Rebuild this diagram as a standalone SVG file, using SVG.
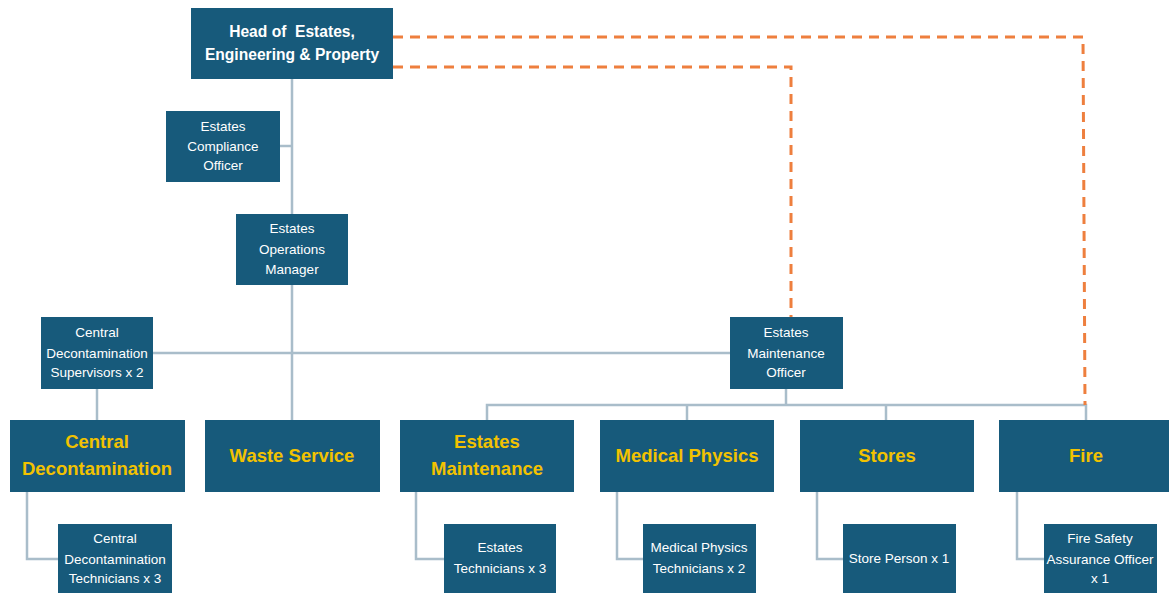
<svg xmlns="http://www.w3.org/2000/svg" width="1169" height="593" viewBox="0 0 1169 593">
<style>
.box{fill:#175a7b}
.ln{fill:none;stroke:#a9bdca;stroke-width:2.5}
.ds{fill:none;stroke:#ee7f3e;stroke-width:3;stroke-dasharray:10 7}
.hd{font-family:"Liberation Sans",Arial,sans-serif;font-weight:bold;font-size:15.6px;fill:#ffffff;text-anchor:middle}
.sm{font-family:"Liberation Sans",Arial,sans-serif;font-size:13.5px;fill:#ffffff;text-anchor:middle}
.yl{font-family:"Liberation Sans",Arial,sans-serif;font-weight:bold;font-size:18.5px;fill:#f2c200;text-anchor:middle}
</style>
<rect width="1169" height="593" fill="#ffffff"/>
<g id="connectors">
<path class="ln" d="M292 79 V420"/>
<path class="ln" d="M280 146 H292"/>
<path class="ln" d="M153 353 H730"/>
<path class="ln" d="M97 389 V420"/>
<path class="ln" d="M786 389 V405"/>
<path class="ln" d="M487 420 V405 H1086 V420"/>
<path class="ln" d="M687 405 V420"/>
<path class="ln" d="M886 405 V420"/>
<path class="ln" d="M27 492 V559 H58"/>
<path class="ln" d="M416 492 V559 H444"/>
<path class="ln" d="M617 492 V559 H643"/>
<path class="ln" d="M817 492 V559 H843"/>
<path class="ln" d="M1017 492 V559 H1044"/>
<path class="ds" d="M393 37 H1083 L1085 405"/>
<path class="ds" d="M393 67 H791 V317"/>
</g>
<g id="head">
<rect class="box" x="191" y="8" width="202" height="71"/>
<text class="hd" x="292" y="37">Head of&#160; Estates,</text>
<text class="hd" x="292" y="60">Engineering &amp; Property</text>
</g>
<g id="compliance">
<rect class="box" x="166" y="111" width="114" height="71"/>
<text class="sm" x="223" y="131">Estates</text>
<text class="sm" x="223" y="151">Compliance</text>
<text class="sm" x="223" y="170">Officer</text>
</g>
<g id="opsmanager">
<rect class="box" x="236" y="214" width="112" height="71"/>
<text class="sm" x="292" y="233">Estates</text>
<text class="sm" x="292" y="254">Operations</text>
<text class="sm" x="292" y="274">Manager</text>
</g>
<g id="cdsupervisors">
<rect class="box" x="41" y="317" width="112" height="72"/>
<text class="sm" x="97" y="337">Central</text>
<text class="sm" x="97" y="358">Decontamination</text>
<text class="sm" x="97" y="377">Supervisors x 2</text>
</g>
<g id="emofficer">
<rect class="box" x="730" y="317" width="113" height="72"/>
<text class="sm" x="786" y="337">Estates</text>
<text class="sm" x="786" y="358">Maintenance</text>
<text class="sm" x="786" y="377">Officer</text>
</g>
<g id="centraldecon">
<rect class="box" x="10" y="420" width="175" height="72"/>
<text class="yl" x="97" y="448">Central</text>
<text class="yl" x="97" y="475">Decontamination</text>
</g>
<g id="waste">
<rect class="box" x="205" y="420" width="175" height="72"/>
<text class="yl" x="292" y="462">Waste Service</text>
</g>
<g id="estatesmaint">
<rect class="box" x="400" y="420" width="174" height="72"/>
<text class="yl" x="487" y="448">Estates</text>
<text class="yl" x="487" y="475">Maintenance</text>
</g>
<g id="medphys">
<rect class="box" x="600" y="420" width="174" height="72"/>
<text class="yl" x="687" y="462">Medical Physics</text>
</g>
<g id="stores">
<rect class="box" x="800" y="420" width="174" height="72"/>
<text class="yl" x="887" y="462">Stores</text>
</g>
<g id="fire">
<rect class="box" x="999" y="420" width="172" height="72"/>
<text class="yl" x="1086" y="462">Fire</text>
</g>
<g id="cdtechs">
<rect class="box" x="58" y="524" width="114" height="72"/>
<text class="sm" x="115" y="543">Central</text>
<text class="sm" x="115" y="564">Decontamination</text>
<text class="sm" x="115" y="583">Technicians x 3</text>
</g>
<g id="estechs">
<rect class="box" x="444" y="524" width="112" height="72"/>
<text class="sm" x="500" y="552">Estates</text>
<text class="sm" x="500" y="573">Technicians x 3</text>
</g>
<g id="mptechs">
<rect class="box" x="643" y="524" width="113" height="72"/>
<text class="sm" x="699" y="552">Medical Physics</text>
<text class="sm" x="699" y="573">Technicians x 2</text>
</g>
<g id="storeperson">
<rect class="box" x="843" y="524" width="113" height="72"/>
<text class="sm" x="899" y="563">Store Person x 1</text>
</g>
<g id="firesafety">
<rect class="box" x="1044" y="524" width="113" height="72"/>
<text class="sm" x="1100" y="543">Fire Safety</text>
<text class="sm" x="1100" y="564">Assurance Officer</text>
<text class="sm" x="1100" y="583">x 1</text>
</g>
</svg>
